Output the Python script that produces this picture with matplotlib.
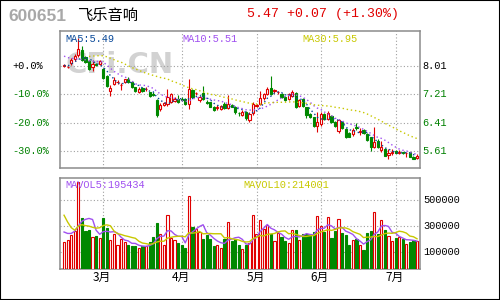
import numpy as np
import pandas as pd
import matplotlib
matplotlib.use("Agg")
import matplotlib.pyplot as plt
from matplotlib.transforms import blended_transform_factory

code = "600651"
name = "飞乐音响"
quote = "5.47 +0.07 (+1.30%)"

# daily candles, Feb -> Jul
opens = [8.00, 7.97, 8.08, 8.19, 8.31, 8.44, 8.25, 8.14, 7.97, 8.05,
         8.05, 7.92, 7.72, 7.30, 7.51, 7.55, 7.47, 7.55, 7.63, 7.55,
         7.40, 7.28, 7.38, 7.35, 7.26, 7.22, 7.05, 6.81, 6.91, 6.93,
         7.00, 7.02, 7.09, 7.08, 7.07, 6.93, 7.32, 7.24, 7.04, 7.24,
         7.00, 6.98, 6.86, 6.83, 6.79, 6.95, 6.82, 6.92, 6.86, 6.68,
         6.63, 6.70, 6.48, 6.67, 6.88, 6.93, 7.10, 7.21, 7.39, 7.31,
         7.27, 7.21, 7.12, 7.07, 7.16, 7.25, 6.87, 7.07, 6.84, 6.65,
         6.56, 6.32, 6.37, 6.65, 6.51, 6.60, 6.44, 6.18, 6.44, 6.23,
         6.11, 6.09, 6.28, 6.16, 6.20, 6.09, 6.00, 5.74, 5.90, 5.64,
         5.67, 5.51, 5.57, 5.61, 5.57, 5.58, 5.55, 5.58, 5.44, 5.42]
closes = [8.02, 7.98, 8.17, 8.29, 8.49, 8.18, 8.11, 7.93, 8.05, 8.04,
          8.13, 7.67, 7.44, 7.38, 7.60, 7.56, 7.48, 7.63, 7.56, 7.42,
          7.30, 7.36, 7.29, 7.37, 7.17, 7.20, 6.62, 6.90, 6.96, 7.12,
          7.21, 7.08, 6.98, 7.06, 6.93, 7.35, 7.12, 7.25, 7.13, 7.07,
          6.97, 6.86, 6.76, 6.85, 6.88, 6.82, 6.95, 6.86, 6.70, 6.67,
          6.72, 6.54, 6.65, 6.93, 6.90, 7.10, 7.21, 7.35, 7.21, 7.32,
          7.28, 7.12, 7.04, 7.21, 7.27, 6.85, 7.04, 6.88, 6.63, 6.56,
          6.32, 6.44, 6.65, 6.51, 6.67, 6.42, 6.32, 6.48, 6.25, 6.00,
          6.02, 6.20, 6.26, 6.17, 6.11, 5.92, 5.72, 5.88, 5.72, 5.72,
          5.49, 5.56, 5.58, 5.57, 5.58, 5.57, 5.56, 5.46, 5.40, 5.47]
highs = [8.05, 8.01, 8.23, 8.33, 8.80, 8.55, 8.28, 8.16, 8.18, 8.10,
         8.16, 7.95, 7.74, 7.47, 7.68, 7.62, 7.53, 7.65, 7.70, 7.57,
         7.42, 7.40, 7.42, 7.42, 7.28, 7.26, 7.07, 6.96, 6.99, 7.37,
         7.24, 7.12, 7.19, 7.12, 7.10, 7.64, 7.37, 7.28, 7.16, 7.45,
         7.04, 7.00, 6.88, 6.90, 6.92, 6.98, 7.20, 6.95, 6.88, 6.72,
         6.76, 6.73, 6.70, 7.00, 6.95, 7.31, 7.25, 7.40, 7.71, 7.36,
         7.31, 7.25, 7.15, 7.24, 7.32, 7.28, 7.08, 7.10, 6.86, 6.68,
         6.58, 6.70, 6.70, 6.68, 6.75, 6.63, 6.46, 6.51, 6.47, 6.26,
         6.14, 6.25, 6.40, 6.26, 6.23, 6.11, 6.02, 6.28, 5.95, 5.90,
         5.70, 5.68, 5.68, 5.64, 5.64, 5.60, 5.60, 5.60, 5.47, 5.52]
lows = [7.97, 7.94, 8.03, 8.15, 8.26, 8.15, 8.08, 7.90, 7.85, 8.00,
        8.02, 7.64, 7.40, 7.17, 7.48, 7.50, 7.32, 7.52, 7.53, 7.39,
        7.27, 7.25, 7.27, 7.30, 7.14, 7.16, 6.57, 6.74, 6.88, 6.88,
        6.97, 6.98, 6.96, 7.03, 6.91, 6.81, 7.10, 7.20, 7.00, 7.05,
        6.94, 6.84, 6.74, 6.77, 6.77, 6.80, 6.80, 6.84, 6.66, 6.60,
        6.60, 6.50, 6.44, 6.64, 6.84, 6.90, 7.06, 7.18, 7.18, 7.24,
        7.22, 7.10, 7.02, 7.04, 7.13, 6.82, 6.84, 6.85, 6.55, 6.53,
        6.30, 6.16, 6.33, 6.48, 6.48, 6.40, 6.30, 6.12, 6.23, 5.98,
        6.00, 6.05, 6.20, 6.08, 6.09, 5.90, 5.62, 5.70, 5.70, 5.60,
        5.47, 5.38, 5.50, 5.56, 5.54, 5.52, 5.45, 5.44, 5.38, 5.40]
volumes = [179, 192, 236, 262, 640, 364, 264, 272, 221, 226,
           210, 364, 287, 192, 241, 154, 205, 179, 159, 149,
           149, 133, 149, 149, 179, 218, 325, 244, 156, 385,
           213, 192, 169, 154, 133, 531, 295, 277, 256, 200,
           231, 200, 149, 154, 133, 205, 331, 185, 205, 154,
           123, 154, 172, 385, 244, 346, 282, 312, 241, 185,
           246, 215, 185, 170, 275, 269, 191, 240, 244, 238,
           253, 378, 305, 253, 370, 211, 262, 359, 251, 231,
           154, 192, 200, 154, 115, 249, 262, 410, 244, 346,
           269, 226, 185, 210, 221, 205, 162, 179, 192, 190]
volumes = [v * 1000 for v in volumes]

# moving-average values for the first days,
# where the averages still include days before the window
ma10_head = [8.28, 8.24, 8.22, 8.21]
ma30_start = 7
ma30_head = [8.27, 8.28, 8.29, 8.29, 8.29, 8.26, 8.22, 8.18, 8.14, 8.11,
             8.06, 8.01, 7.96, 7.92, 7.88, 7.84, 7.80, 7.77, 7.74, 7.71,
             7.68, 7.66, 7.64]
mav5_head = [256000, 245000, 245000, 262000]
mav10_head = [385000, 333000, 290000, 269000]

month_pos = [11, 33, 54, 72, 93]
month_labels = ["3月", "4月", "5月", "6月", "7月"]
base_price = 8.01
price_ticks = [8.01, 7.21, 6.41, 5.61]
vol_ticks = [500000, 300000, 100000]
ma_text = ["MA5:5.49", "MA10:5.51", "MA30:5.95"]
mavol_text = ["MAVOL5:195434", "MAVOL10:214001"]

RED = "#e00000"
GREEN = "#008800"
BLUE = "#0a4a9a"
PURPLE = "#a050f0"
YELLOW = "#c8c800"
GRID = "#a0a0a0"
FRAME = "#8c8c8c"
MONO = "Liberation Mono"
CJK = ["Noto Sans CJK SC", "DejaVu Sans"]

o = np.array(opens); c = np.array(closes)
h = np.array(highs); l = np.array(lows)
vol = np.array(volumes, dtype=float)
x = np.arange(len(c))
up = c >= o
col = np.where(up, RED, GREEN)
face = np.where(up, "white", GREEN)

s = pd.Series(c)
ma5 = s.rolling(5, min_periods=1).mean().to_numpy()
ma10 = s.rolling(10, min_periods=1).mean().to_numpy()
ma10[:len(ma10_head)] = ma10_head
ma30 = s.rolling(30, min_periods=1).mean().to_numpy()
ma30[:ma30_start] = np.nan
ma30[ma30_start:ma30_start + len(ma30_head)] = ma30_head
sv = pd.Series(vol)
mav5 = sv.rolling(5, min_periods=1).mean().to_numpy()
mav5[:len(mav5_head)] = mav5_head
mav10 = sv.rolling(10, min_periods=1).mean().to_numpy()
mav10[:len(mav10_head)] = mav10_head

fig = plt.figure(figsize=(5, 3), dpi=100)
ax = fig.add_axes([0.1206, 0.439, 0.72, 0.4577])
axv = fig.add_axes([0.1206, 0.1033, 0.72, 0.3024])

xlim = (-1.05, 99.92)
dots = (0, (1, 2))

# price panel
ax.text(0.165, 0.755, "CFi.CN", transform=ax.transAxes, ha="center", va="center",
        fontsize=21, fontweight="bold", color="#d2d2d2", zorder=0)
ax.vlines(x, l, h, colors=col, lw=0.8, zorder=2)
ax.bar(x, np.abs(c - o), 0.62, bottom=np.minimum(o, c), color=face,
       edgecolor=col, linewidth=0.8, zorder=3)
ax.plot(x, ma5, color=BLUE, lw=1, ls=dots, zorder=4)
ax.plot(x, ma10, color=PURPLE, lw=1, ls=dots, zorder=4)
ax.plot(x, ma30, color=YELLOW, lw=1, ls=dots, zorder=4)
ax.set_xlim(*xlim)
ax.set_ylim(5.132, 8.985)
ax.set_yticks(price_ticks)
ax.set_xticks(month_pos)
ax.grid(True, ls=dots, color=GRID, lw=0.8)
ax.tick_params(length=0, labelleft=False, labelbottom=False)

trl = blended_transform_factory(ax.transAxes, ax.transData)
for i, p in enumerate(price_ticks):
    pct = (p / base_price - 1) * 100
    lab = "+0.0%" if i == 0 else f"{pct:.1f}%"
    lc = "black" if i == 0 else "#008000"
    ax.text(-0.134, p, lab, transform=trl, ha="left", va="center",
            fontsize=7.4, family=MONO, color=lc)
    ax.text(1.005, p, f"{p:.2f}", transform=trl, ha="left", va="center",
            fontsize=7.4, family=MONO, color=lc)

for t, cc, xx in zip(ma_text, [BLUE, PURPLE, YELLOW], [0.013, 0.34, 0.673]):
    ax.text(xx, 0.945, t, transform=ax.transAxes, ha="left", va="center",
            fontsize=7.4, family=MONO, color=cc)

# volume panel
vmin = -28500
axv.bar(x, vol - vmin, 0.62, bottom=vmin, color=face, edgecolor=col,
        linewidth=0.8, zorder=3)
axv.plot(x, mav5, color=PURPLE, lw=1, zorder=4)
axv.plot(x, mav10, color=YELLOW, lw=1, zorder=4)
axv.set_xlim(*xlim)
axv.set_ylim(vmin, 669000)
axv.set_yticks(vol_ticks)
axv.set_xticks(month_pos)
axv.grid(True, ls=dots, color=GRID, lw=0.8)
axv.tick_params(length=0, labelleft=False, labelbottom=False)

trv = blended_transform_factory(axv.transAxes, axv.transData)
for v in vol_ticks:
    axv.text(1.008, v, str(v), transform=trv, ha="left", va="center",
             fontsize=7.4, family=MONO, color="black")
for t, cc, xx in zip(mavol_text, [PURPLE, YELLOW], [0.013, 0.508]):
    axv.text(xx, 0.926, t, transform=axv.transAxes, ha="left", va="center",
             fontsize=7.4, family=MONO, color=cc)

trm = blended_transform_factory(axv.transData, axv.transAxes)
for p, t in zip(month_pos, month_labels):
    axv.text(p - 0.3, -0.094, t, transform=trm, ha="center", va="center",
             fontsize=8.5, family=CJK, color="black")

for a in (ax, axv):
    for sp in a.spines.values():
        sp.set_color(FRAME)
        sp.set_linewidth(1.1)

# header
fig.text(0.016, 0.945, code, ha="left", va="center", fontsize=12.5,
         fontweight="bold", family="Liberation Sans", color="#a8a8a8")
fig.text(0.156, 0.95, name, ha="left", va="center", fontsize=11,
         family=CJK, color="black")
fig.text(0.494, 0.953, quote, ha="left", va="center", fontsize=9.5,
         family=MONO, color=RED)

fig.add_artist(plt.Rectangle((0, 0), 1, 1, transform=fig.transFigure,
                             fill=False, ec="black", lw=1.5))

fig.savefig("out.png", dpi=100)
